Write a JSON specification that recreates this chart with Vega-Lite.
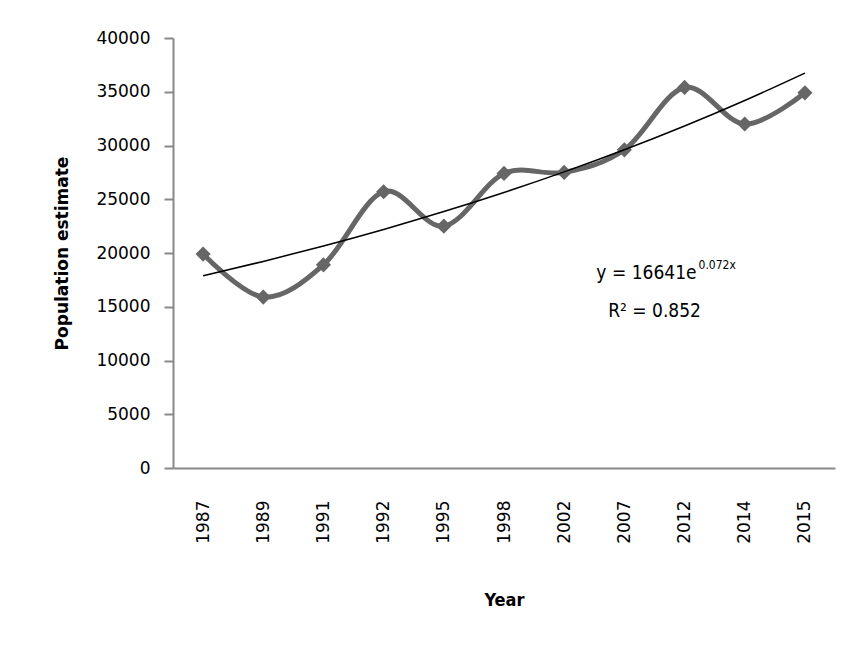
{
  "$schema": "https://vega.github.io/schema/vega-lite/v6.json",
  "width": 662,
  "height": 430,
  "autosize": {"type": "none"},
  "padding": {"left": 173, "top": 38, "right": 13, "bottom": 185},
  "background": "white",
  "config": {"view": {"stroke": null}},
  "datasets": {
    "pop": [
      {"year": "1987", "population": 19900},
      {"year": "1989", "population": 15900},
      {"year": "1991", "population": 18900},
      {"year": "1992", "population": 25700},
      {"year": "1995", "population": 22500},
      {"year": "1998", "population": 27400},
      {"year": "2002", "population": 27500},
      {"year": "2007", "population": 29600},
      {"year": "2012", "population": 35400},
      {"year": "2014", "population": 32000},
      {"year": "2015", "population": 34900}
    ],
    "trend": [
      {"year": "1987", "trend": 17883},
      {"year": "1989", "trend": 19219},
      {"year": "1991", "trend": 20653},
      {"year": "1992", "trend": 22195},
      {"year": "1995", "trend": 23852},
      {"year": "1998", "trend": 25633},
      {"year": "2002", "trend": 27546},
      {"year": "2007", "trend": 29603},
      {"year": "2012", "trend": 31813},
      {"year": "2014", "trend": 34188},
      {"year": "2015", "trend": 36740}
    ],
    "notes": [
      {"year": "2012", "value": 18100, "label": "y = 16641e", "part": "main"},
      {"year": "2012", "value": 18900, "label": "0.072x", "part": "sup"},
      {"year": "2012", "value": 14600, "label": "R² = 0.852", "part": "r2"}
    ]
  },
  "encoding": {
    "x": {
      "field": "year",
      "type": "ordinal",
      "scale": {"type": "point", "padding": 0.5},
      "axis": {
        "title": "Year",
        "titleFont": "DejaVu Sans Condensed",
        "titleFontSize": 18,
        "titleFontWeight": "bold",
        "titleColor": "#000",
        "titleY": 132,
        "titleBaseline": "middle",
        "labelAngle": -90,
        "labelAlign": "right",
        "labelBaseline": "middle",
        "labelFont": "DejaVu Sans",
        "labelFontSize": 17,
        "labelColor": "#000",
        "labelPadding": 32,
        "ticks": false,
        "domainColor": "#888",
        "domainWidth": 2,
        "grid": false
      }
    }
  },
  "layer": [
    {
      "data": {"name": "pop"},
      "mark": {"type": "line", "interpolate": "cardinal", "color": "#666", "strokeWidth": 5},
      "encoding": {
        "y": {
          "field": "population",
          "type": "quantitative",
          "scale": {"domain": [0, 40000], "nice": false},
          "axis": {
            "title": "Population estimate",
            "titleFont": "DejaVu Sans",
            "titleFontSize": 17,
            "titleFontWeight": "bold",
            "titleColor": "#000",
            "titleX": -111,
            "titleBaseline": "middle",
            "values": [0, 5000, 10000, 15000, 20000, 25000, 30000, 35000, 40000],
            "format": "d",
            "labelFont": "DejaVu Sans",
            "labelFontSize": 17,
            "labelColor": "#000",
            "tickSize": 9,
            "tickColor": "#888",
            "tickWidth": 2,
            "labelPadding": 14,
            "domainColor": "#888",
            "domainWidth": 2,
            "grid": false
          }
        }
      }
    },
    {
      "data": {"name": "pop"},
      "mark": {"type": "point", "shape": "diamond", "filled": true, "color": "#666", "size": 230, "opacity": 1},
      "encoding": {
        "y": {"field": "population", "type": "quantitative"}
      }
    },
    {
      "data": {"name": "trend"},
      "mark": {"type": "line", "interpolate": "monotone", "color": "#000", "strokeWidth": 1.5},
      "encoding": {
        "y": {"field": "trend", "type": "quantitative"}
      }
    },
    {
      "data": {"name": "notes"},
      "transform": [{"filter": "datum.part == 'main'"}],
      "mark": {"type": "text", "align": "right", "baseline": "middle", "dx": 12, "font": "DejaVu Sans Condensed", "fontSize": 19, "color": "#000"},
      "encoding": {
        "y": {"field": "value", "type": "quantitative"},
        "text": {"field": "label"}
      }
    },
    {
      "data": {"name": "notes"},
      "transform": [{"filter": "datum.part == 'sup'"}],
      "mark": {"type": "text", "align": "left", "baseline": "middle", "dx": 14, "font": "DejaVu Sans Condensed", "fontSize": 12, "color": "#000"},
      "encoding": {
        "y": {"field": "value", "type": "quantitative"},
        "text": {"field": "label"}
      }
    },
    {
      "data": {"name": "notes"},
      "transform": [{"filter": "datum.part == 'r2'"}],
      "mark": {"type": "text", "align": "center", "baseline": "middle", "dx": -30, "font": "DejaVu Sans Condensed", "fontSize": 19, "color": "#000"},
      "encoding": {
        "y": {"field": "value", "type": "quantitative"},
        "text": {"field": "label"}
      }
    }
  ]
}
